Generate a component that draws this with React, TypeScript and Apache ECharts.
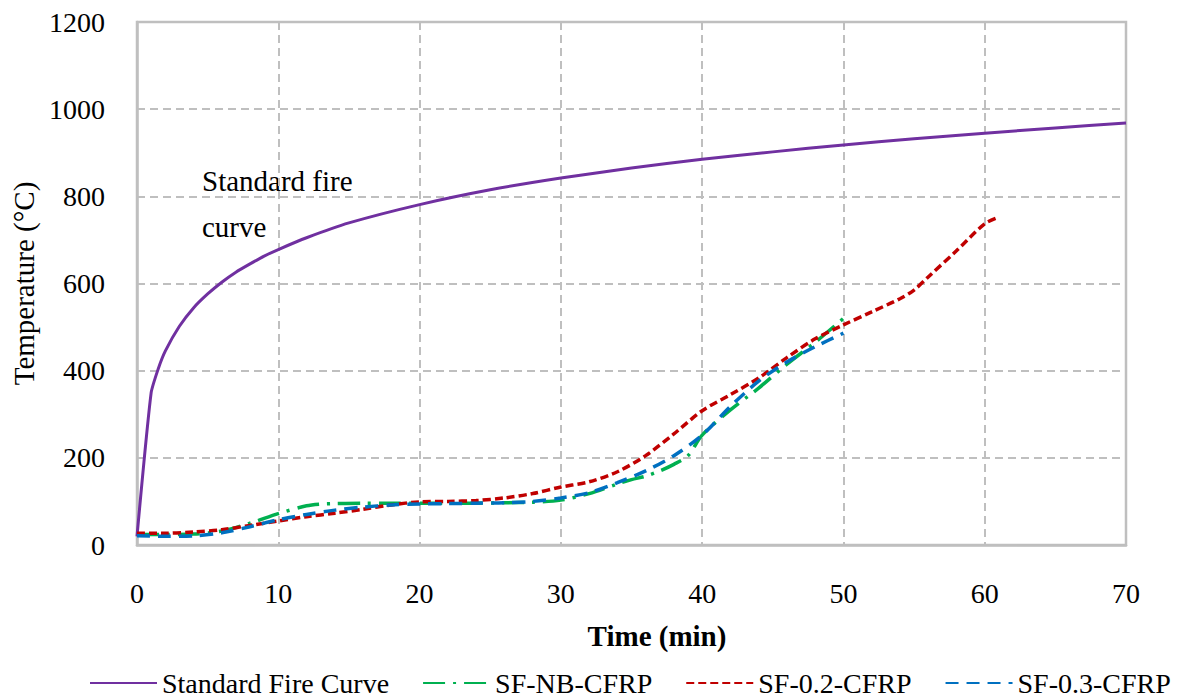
import React, { useEffect, useRef } from "react";
import * as echarts from "echarts";

const xTicks = [0, 10, 20, 30, 40, 50, 60, 70];
const yTicks = [0, 200, 400, 600, 800, 1000, 1200];

const stdTime = [0, 1, 1.5, 2, 3, 4, 5, 6, 7, 8, 9, 10, 12, 15, 20, 25, 30, 35, 40, 45, 50, 55, 60, 65, 70];
const stdTemp = [20, 349, 404, 445, 502, 544, 576, 603, 626, 645, 663, 678, 705, 739, 781, 815, 842, 865, 885, 902, 918, 932, 945, 957, 968];

const nbTime = [0, 2, 4, 6, 8, 10, 12, 13, 14, 16, 18, 20, 22, 24, 26, 28, 30, 32, 34, 35, 36, 37, 38, 39, 40, 42, 44, 46, 48, 50];
const nbTemp = [24, 24, 25, 32, 50, 72, 90, 94, 95, 96, 96, 96, 96, 96, 97, 98, 103, 118, 140, 150, 158, 170, 185, 205, 252, 310, 360, 415, 465, 520];

const f02Time = [0, 2, 4, 6, 8, 10, 12, 14, 16, 18, 20, 22, 24, 26, 28, 30, 32, 34, 36, 38, 40, 42, 44, 46, 48, 50, 52, 54, 55, 56, 58, 60, 61];
const f02Temp = [27, 27, 30, 35, 45, 55, 65, 73, 82, 92, 99, 100, 102, 108, 118, 133, 145, 168, 205, 255, 308, 345, 383, 430, 473, 505, 535, 565, 585, 615, 675, 737, 752];

const f03Time = [0, 2, 4, 6, 8, 10, 12, 14, 16, 18, 20, 22, 24, 26, 28, 30, 32, 34, 36, 38, 40, 42, 44, 46, 48, 50];
const f03Temp = [21, 20, 21, 28, 42, 58, 70, 80, 87, 92, 94, 95, 96, 97, 100, 108, 120, 143, 170, 205, 252, 318, 376, 420, 455, 486];

const seriesNames = ["Standard Fire Curve", "SF-NB-CFRP", "SF-0.2-CFRP", "SF-0.3-CFRP"];
const annotationLines = ["Standard fire", "curve"];
const xTitle = "Time (min)";
const yTitle = "Temperature (°C)";

const zip = (a: number[], b: number[]) => a.map((v, i) => [v, b[i]]);

const FONT = "Liberation Serif";

export default function App() {
  const ref = useRef<HTMLDivElement>(null);
  useEffect(() => {
    if (!ref.current) return;
    const chart = echarts.init(ref.current, undefined, { renderer: "svg" });
    const gray = "#BFBFBF";
    chart.setOption({
      animation: false,
      backgroundColor: "#fff",
      textStyle: { fontFamily: FONT },
      grid: {
        left: 137,
        right: 53,
        top: 22,
        bottom: 155,
        show: true,
        containLabel: false,
        outerBoundsMode: "none",
        borderColor: gray,
        borderWidth: 2.5,
      },
      legend: {
        top: 669,
        left: 89,
        width: 1090,
        padding: 0,
        itemWidth: 67,
        itemHeight: 14,
        itemGap: 33,
        itemStyle: { opacity: 0 },
        textStyle: { fontFamily: FONT, fontSize: 28, color: "#000" },
        data: seriesNames,
      },
      xAxis: {
        type: "value",
        min: xTicks[0],
        max: xTicks[xTicks.length - 1],
        interval: 10,
        axisLine: { show: true, lineStyle: { color: gray, width: 2.5 } },
        axisTick: { show: false },
        axisLabel: { color: "#000", fontFamily: FONT, fontSize: 28, margin: 34 },
        splitLine: { show: true, lineStyle: { color: gray, width: 2, type: [8, 5] } },
      },
      yAxis: {
        type: "value",
        min: yTicks[0],
        max: yTicks[yTicks.length - 1],
        interval: 200,
        name: yTitle,
        nameLocation: "middle",
        nameGap: 96,
        nameTextStyle: { color: "#000", fontFamily: FONT, fontSize: 29 },
        axisLine: { show: true, lineStyle: { color: gray, width: 2.5 } },
        axisTick: { show: false },
        axisLabel: {
          color: "#000",
          fontFamily: FONT,
          fontSize: 28,
          margin: 32,
          formatter: (v: number) => String(v),
        },
        splitLine: { show: true, lineStyle: { color: gray, width: 2, type: [8, 5] } },
      },
      graphic: [
        {
          type: "text",
          x: 657,
          y: 636,
          style: {
            text: xTitle,
            font: `bold 29px "${FONT}"`,
            fill: "#000",
            align: "center",
            verticalAlign: "middle",
          },
        },
        {
          type: "text",
          x: 202,
          y: 181,
          style: { text: annotationLines[0], font: `29px "${FONT}"`, fill: "#000", verticalAlign: "middle" },
        },
        {
          type: "text",
          x: 202,
          y: 227,
          style: { text: annotationLines[1], font: `29px "${FONT}"`, fill: "#000", verticalAlign: "middle" },
        },
      ],
      series: [
        {
          name: seriesNames[0],
          type: "line",
          data: zip(stdTime, stdTemp),
          symbol: "none",
          smooth: 0.2,
          lineStyle: { color: "#7030A0", width: 3 },
          itemStyle: { color: "#7030A0" },
        },
        {
          name: seriesNames[1],
          type: "line",
          data: zip(nbTime, nbTemp),
          symbol: "none",
          smooth: 0.3,
          lineStyle: { color: "#00B050", width: 3.5, type: [22, 8, 3, 8] },
          itemStyle: { color: "#00B050" },
        },
        {
          name: seriesNames[2],
          type: "line",
          data: zip(f02Time, f02Temp),
          symbol: "none",
          smooth: 0.3,
          lineStyle: { color: "#C00000", width: 3.5, type: [8, 4] },
          itemStyle: { color: "#C00000" },
        },
        {
          name: seriesNames[3],
          type: "line",
          data: zip(f03Time, f03Temp),
          symbol: "none",
          smooth: 0.3,
          lineStyle: { color: "#0070C0", width: 3.5, type: [13, 8] },
          itemStyle: { color: "#0070C0" },
        },
      ],
    });
    return () => chart.dispose();
  }, []);
  return (
    <div
      ref={ref}
      style={{ position: "fixed", left: 0, top: 0, width: 1179, height: 700 }}
    />
  );
}
